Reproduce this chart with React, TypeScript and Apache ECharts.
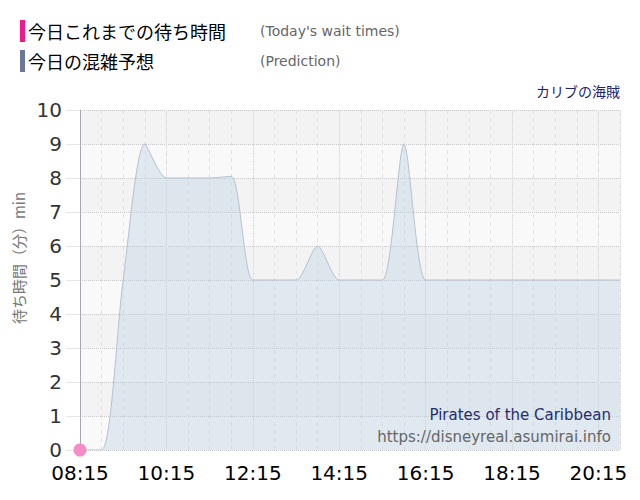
import { useEffect, useRef } from "react";
import * as echarts from "echarts";

const times = [
  "08:15", "08:45", "09:15", "09:45", "10:15", "10:45", "11:15", "11:45",
  "12:15", "12:45", "13:15", "13:45", "14:15", "14:45", "15:15", "15:45",
  "16:15", "16:45", "17:15", "17:45", "18:15", "18:45", "19:15", "19:45",
  "20:15", "20:45",
];
const prediction = [
  0, 0, 5, 9, 8, 8, 8, 8.05, 5, 5, 5, 6, 5, 5, 5, 9, 5, 5, 5, 5, 5, 5, 5, 5,
  5, 5,
];
const todayTimes = ["08:15"];
const todayWaits = [0];

const START = "08:15";
const END = "20:45";

const toMinutes = (t: string) => {
  const [h, m] = t.split(":").map(Number);
  return h * 60 + m;
};
const offset = (t: string) => toMinutes(t) - toMinutes(START);
const fmtOffset = (v: number) => {
  const total = toMinutes(START) + v;
  const h = Math.floor(total / 60);
  const m = total % 60;
  return `${String(h).padStart(2, "0")}:${String(m).padStart(2, "0")}`;
};

const JP = '"Noto Sans CJK JP", "DejaVu Sans", sans-serif';
const LATIN = '"DejaVu Sans", sans-serif';

export default function App() {
  const ref = useRef<HTMLDivElement>(null);
  useEffect(() => {
    const el = ref.current;
    if (!el) return;
    const chart = echarts.init(el, undefined, { renderer: "svg" });
    const span = offset(END);
    chart.setOption({
      animation: false,
      backgroundColor: "#ffffff",
      grid: { left: 80, right: 20, top: 110, bottom: 50 },
      xAxis: [
        {
          type: "value",
          min: 0,
          max: span,
          interval: 120,
          axisLine: { show: false },
          axisTick: { show: false },
          axisLabel: {
            color: "#000",
            fontSize: 20,
            fontFamily: LATIN,
            margin: 13,
            formatter: (v: number) => (v % 120 === 0 ? fmtOffset(v) : ""),
          },
          splitLine: {
            show: true,
            lineStyle: { color: "#d0d0d0", type: "dotted", width: 1 },
          },
        },
        {
          type: "value",
          min: 0,
          max: span,
          interval: 30,
          position: "bottom",
          axisLine: { show: false },
          axisTick: { show: false },
          axisLabel: { show: false },
          splitLine: {
            show: true,
            lineStyle: { color: "#e2e2e2", type: [4, 4], width: 1 },
          },
        },
      ],
      yAxis: {
        type: "value",
        min: 0,
        max: 10,
        interval: 1,
        axisLine: { show: true, lineStyle: { color: "#a8a8b0" } },
        axisTick: { show: true, length: 14, lineStyle: { color: "#e6e6e6" } },
        axisLabel: {
          color: "#333",
          fontSize: 20,
          lineHeight: 20,
          fontFamily: LATIN,
          margin: 18,
        },
        splitLine: {
          show: true,
          lineStyle: { color: "#c8c8c8", type: "dotted", width: 1 },
        },
        splitArea: {
          show: true,
          areaStyle: { color: ["#f9f9f9", "#f3f3f3"] },
        },
      },
      series: [
        {
          name: "今日の混雑予想",
          type: "line",
          xAxisIndex: 0,
          smooth: 0.25,
          showSymbol: false,
          lineStyle: { color: "#b4c2ce", width: 1 },
          areaStyle: { color: "rgba(190,208,228,0.58)" },
          data: times.map((t, i) => [offset(t), prediction[i]]),
          z: 2,
        },
        {
          name: "今日これまでの待ち時間",
          type: "line",
          xAxisIndex: 0,
          symbol: "circle",
          symbolSize: 13,
          showSymbol: true,
          itemStyle: { color: "#f48cc8" },
          lineStyle: { color: "#f48cc8", width: 2 },
          data: todayTimes.map((t, i) => [offset(t), todayWaits[i]]),
          z: 3,
        },
      ],
      graphic: [
        { type: "rect", shape: { x: 20, y: 20, width: 5, height: 22 }, style: { fill: "#f0188c" } },
        {
          type: "text",
          x: 28,
          y: 31,
          style: { text: "今日これまでの待ち時間", fontSize: 18, fontFamily: JP, fill: "#000", verticalAlign: "middle" },
        },
        {
          type: "text",
          x: 260,
          y: 31,
          style: { text: "(Today's wait times)", fontSize: 14, fontFamily: LATIN, fill: "#666", verticalAlign: "middle" },
        },
        { type: "rect", shape: { x: 20, y: 50, width: 5, height: 22 }, style: { fill: "#6b7893" } },
        {
          type: "text",
          x: 28,
          y: 61,
          style: { text: "今日の混雑予想", fontSize: 18, fontFamily: JP, fill: "#000", verticalAlign: "middle" },
        },
        {
          type: "text",
          x: 260,
          y: 61,
          style: { text: "(Prediction)", fontSize: 14, fontFamily: LATIN, fill: "#666", verticalAlign: "middle" },
        },
        {
          type: "text",
          x: 620,
          y: 91,
          style: { text: "カリブの海賊", fontSize: 14, fontFamily: JP, fill: "#1a2370", align: "right", verticalAlign: "middle" },
        },
        {
          type: "text",
          x: 611,
          y: 415,
          z: 10,
          style: { text: "Pirates of the Caribbean", fontSize: 15, fontFamily: LATIN, fill: "#252d6e", align: "right", verticalAlign: "middle" },
        },
        {
          type: "text",
          x: 611,
          y: 437,
          z: 10,
          style: { text: "https://disneyreal.asumirai.info", fontSize: 15, fontFamily: LATIN, fill: "#666", align: "right", verticalAlign: "middle" },
        },
        {
          type: "text",
          x: 18,
          y: 258,
          rotation: Math.PI / 2,
          style: { text: "待ち時間（分）min", fontSize: 15, fontFamily: JP, fill: "#777", align: "center", verticalAlign: "middle" },
        },
      ],
    });
    return () => chart.dispose();
  }, []);
  return (
    <div
      ref={ref}
      style={{ position: "fixed", left: 0, top: 0, width: 640, height: 500 }}
    />
  );
}
